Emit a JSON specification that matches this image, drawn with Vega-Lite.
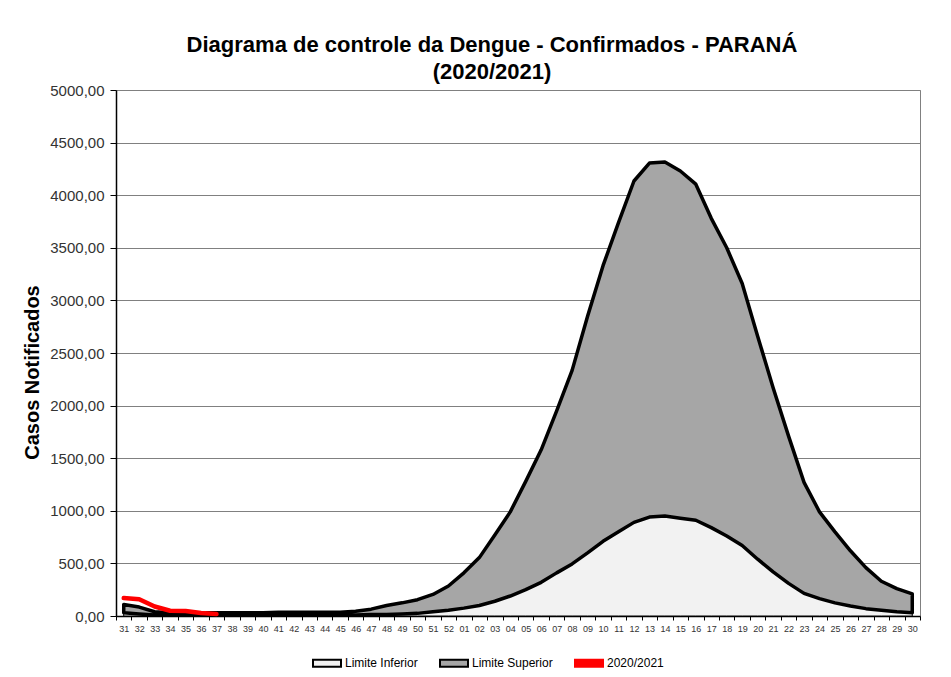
{
  "$schema": "https://vega.github.io/schema/vega-lite/v6.json",
  "width": 804,
  "height": 526,
  "autosize": {"type": "none"},
  "padding": {"left": 116, "top": 90, "right": 31, "bottom": 61},
  "background": "white",
  "title": {
    "text": ["Diagrama de controle da Dengue - Confirmados - PARANÁ", "(2020/2021)"],
    "font": "Liberation Sans",
    "fontSize": 22,
    "fontWeight": "bold",
    "color": "#000000",
    "lineHeight": 27,
    "anchor": "middle",
    "dx": -26,
    "offset": -1
  },
  "data": {
    "values": [
      {"sem": "31", "inf": 30, "sup": 110, "atual": 170},
      {"sem": "32", "inf": 20, "sup": 85, "atual": 160},
      {"sem": "33", "inf": 10, "sup": 40, "atual": 90},
      {"sem": "34", "inf": 10, "sup": 30, "atual": 50},
      {"sem": "35", "inf": 10, "sup": 30, "atual": 48},
      {"sem": "36", "inf": 10, "sup": 30, "atual": 28},
      {"sem": "37", "inf": 10, "sup": 30, "atual": 18},
      {"sem": "38", "inf": 10, "sup": 30, "atual": null},
      {"sem": "39", "inf": 10, "sup": 30, "atual": null},
      {"sem": "40", "inf": 10, "sup": 30, "atual": null},
      {"sem": "41", "inf": 10, "sup": 35, "atual": null},
      {"sem": "42", "inf": 10, "sup": 35, "atual": null},
      {"sem": "43", "inf": 10, "sup": 35, "atual": null},
      {"sem": "44", "inf": 10, "sup": 35, "atual": null},
      {"sem": "45", "inf": 10, "sup": 35, "atual": null},
      {"sem": "46", "inf": 10, "sup": 45, "atual": null},
      {"sem": "47", "inf": 15, "sup": 65, "atual": null},
      {"sem": "48", "inf": 15, "sup": 100, "atual": null},
      {"sem": "49", "inf": 20, "sup": 125, "atual": null},
      {"sem": "50", "inf": 25, "sup": 155, "atual": null},
      {"sem": "51", "inf": 40, "sup": 205, "atual": null},
      {"sem": "52", "inf": 55, "sup": 285, "atual": null},
      {"sem": "01", "inf": 75, "sup": 410, "atual": null},
      {"sem": "02", "inf": 100, "sup": 555, "atual": null},
      {"sem": "03", "inf": 140, "sup": 770, "atual": null},
      {"sem": "04", "inf": 190, "sup": 990, "atual": null},
      {"sem": "05", "inf": 250, "sup": 1280, "atual": null},
      {"sem": "06", "inf": 320, "sup": 1580, "atual": null},
      {"sem": "07", "inf": 410, "sup": 1950, "atual": null},
      {"sem": "08", "inf": 495, "sup": 2335, "atual": null},
      {"sem": "09", "inf": 600, "sup": 2850, "atual": null},
      {"sem": "10", "inf": 710, "sup": 3330, "atual": null},
      {"sem": "11", "inf": 800, "sup": 3740, "atual": null},
      {"sem": "12", "inf": 890, "sup": 4135, "atual": null},
      {"sem": "13", "inf": 940, "sup": 4305, "atual": null},
      {"sem": "14", "inf": 950, "sup": 4315, "atual": null},
      {"sem": "15", "inf": 930, "sup": 4230, "atual": null},
      {"sem": "16", "inf": 910, "sup": 4105, "atual": null},
      {"sem": "17", "inf": 840, "sup": 3780, "atual": null},
      {"sem": "18", "inf": 760, "sup": 3500, "atual": null},
      {"sem": "19", "inf": 670, "sup": 3160, "atual": null},
      {"sem": "20", "inf": 540, "sup": 2660, "atual": null},
      {"sem": "21", "inf": 420, "sup": 2170, "atual": null},
      {"sem": "22", "inf": 310, "sup": 1710, "atual": null},
      {"sem": "23", "inf": 215, "sup": 1270, "atual": null},
      {"sem": "24", "inf": 165, "sup": 990, "atual": null},
      {"sem": "25", "inf": 125, "sup": 800, "atual": null},
      {"sem": "26", "inf": 95, "sup": 620, "atual": null},
      {"sem": "27", "inf": 70, "sup": 460, "atual": null},
      {"sem": "28", "inf": 55, "sup": 330, "atual": null},
      {"sem": "29", "inf": 40, "sup": 260, "atual": null},
      {"sem": "30", "inf": 30, "sup": 210, "atual": null}
    ]
  },
  "encoding": {
    "x": {
      "field": "sem",
      "type": "ordinal",
      "sort": null,
      "bandPosition": 0.5,
      "scale": {"type": "band", "paddingInner": 0, "paddingOuter": 0},
      "axis": {
        "title": null,
        "labelAngle": 0,
        "labelFont": "Liberation Sans",
        "labelFontSize": 9,
        "labelColor": "#333333",
        "labelPadding": 4,
        "tickBand": "extent",
        "tickColor": "#000000",
        "tickSize": 4,
        "domainColor": "#000000",
        "domainWidth": 1.5,
        "grid": false
      }
    }
  },
  "layer": [
    {
      "mark": {"type": "area", "strokeWidth": 1, "opacity": 1},
      "encoding": {
        "y": {
          "field": "inf",
          "type": "quantitative",
          "scale": {"domain": [0, 5000], "nice": false},
          "axis": {
            "title": "Casos Notificados",
            "titleFont": "Liberation Sans",
            "titleFontSize": 20,
            "titleFontWeight": "bold",
            "titleColor": "#000000",
            "titlePadding": 7,
            "titleY": 282,
            "values": [0, 500, 1000, 1500, 2000, 2500, 3000, 3500, 4000, 4500, 5000],
            "labelExpr": "replace(format(datum.value, '.2f'), '.', ',')",
            "labelFont": "Liberation Sans",
            "labelFontSize": 15,
            "labelColor": "#333333",
            "labelPadding": 6,
            "tickColor": "#000000",
            "tickSize": 6,
            "domainColor": "#000000",
            "domainWidth": 1.5,
            "grid": true,
            "gridColor": "#808080",
            "gridWidth": 1
          }
        },
        "y2": {"datum": 0},
        "color": {
          "datum": "Limite Inferior",
          "scale": {
            "domain": ["Limite Inferior", "Limite Superior", "2020/2021"],
            "range": ["#f2f2f2", "#a6a6a6", "#ff0000"]
          },
          "legend": {
            "title": null,
            "orient": "none",
            "legendX": 196,
            "legendY": 558,
            "direction": "horizontal",
            "padding": 0,
            "columnPadding": 18,
            "symbolType": "M-1,-0.25H1V0.25H-1Z",
            "symbolSize": 784,
            "symbolOpacity": 1,
            "symbolStrokeWidth": 2,
            "labelFont": "Liberation Sans",
            "labelFontSize": 12,
            "labelColor": "#000000",
            "labelOffset": 3
          }
        },
        "stroke": {
          "datum": "Limite Inferior",
          "scale": {
            "domain": ["Limite Inferior", "Limite Superior", "2020/2021"],
            "range": ["#000000", "#000000", "#ff0000"]
          },
          "legend": {
            "title": null,
            "orient": "none",
            "legendX": 196,
            "legendY": 558,
            "direction": "horizontal",
            "padding": 0,
            "columnPadding": 18,
            "symbolType": "M-1,-0.25H1V0.25H-1Z",
            "symbolSize": 784,
            "symbolOpacity": 1,
            "symbolStrokeWidth": 2,
            "labelFont": "Liberation Sans",
            "labelFontSize": 12,
            "labelColor": "#000000",
            "labelOffset": 3
          }
        }
      }
    },
    {
      "mark": {"type": "area", "strokeWidth": 3.5, "strokeJoin": "round", "opacity": 1},
      "encoding": {
        "y": {"field": "sup", "type": "quantitative"},
        "y2": {"field": "inf"},
        "color": {"datum": "Limite Superior"},
        "stroke": {"datum": "Limite Superior"}
      }
    },
    {
      "mark": {"type": "line", "strokeWidth": 4.5, "strokeCap": "round", "strokeJoin": "round", "opacity": 1},
      "encoding": {
        "y": {"field": "atual", "type": "quantitative"},
        "stroke": {"datum": "2020/2021"}
      }
    }
  ],
  "config": {
    "view": {"stroke": "#808080", "strokeWidth": 1}
  }
}
